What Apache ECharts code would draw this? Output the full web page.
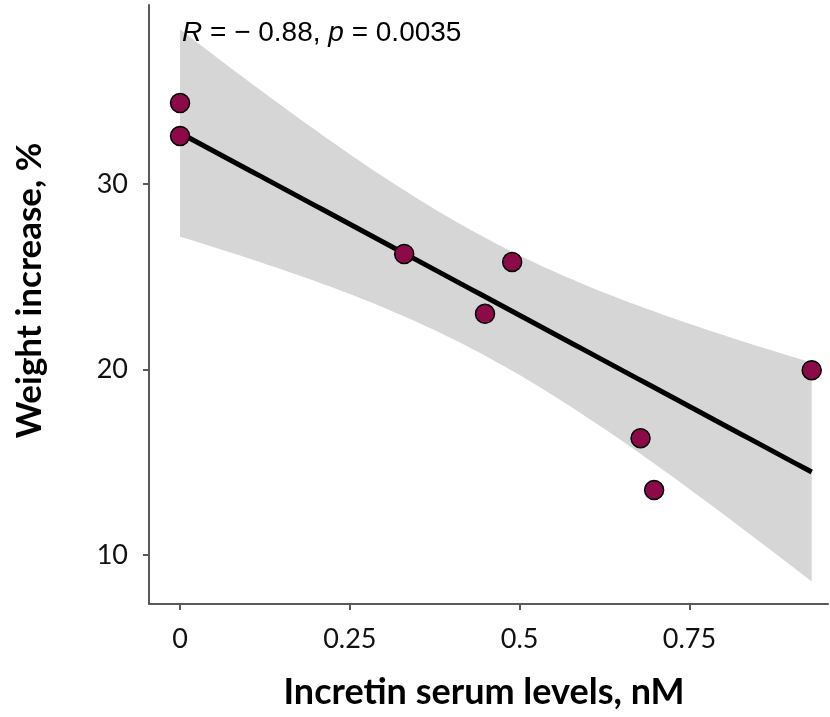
<!DOCTYPE html>
<html>
<head>
<meta charset="utf-8">
<script src="https://cdn.jsdelivr.net/npm/echarts@6/dist/echarts.min.js"></script>
<style>
  html, body { margin: 0; padding: 0; background: #fff; }
  #chart { width: 830px; height: 717px; }
</style>
</head>
<body>
<div id="chart"></div>
<script>
// values
const incretinLevels = [0, 0, 0.33, 0.449, 0.489, 0.678, 0.698, 0.93];
const weightIncrease = [34.37, 32.59, 26.23, 23.0, 25.8, 16.3, 13.5, 19.96];
const xTickValues = [0, 0.25, 0.5, 0.75];
const yTickValues = [10, 20, 30];
const xName = 'Incretin serum levels, nM';
const yName = 'Weight increase, %';

// linear fit + 95% confidence band (like geom_smooth(method = "lm"))
const T_975_DF6 = 2.4469;
const n = incretinLevels.length;
const mx = incretinLevels.reduce((a, b) => a + b, 0) / n;
const my = weightIncrease.reduce((a, b) => a + b, 0) / n;
let sxx = 0, sxy = 0;
for (let i = 0; i < n; i++) {
  sxx += (incretinLevels[i] - mx) ** 2;
  sxy += (incretinLevels[i] - mx) * (weightIncrease[i] - my);
}
const slope = sxy / sxx;
const intercept = my - slope * mx;
let sse = 0;
for (let i = 0; i < n; i++) {
  sse += (weightIncrease[i] - (intercept + slope * incretinLevels[i])) ** 2;
}
const sigma = Math.sqrt(sse / (n - 2));

const xMin = Math.min(...incretinLevels);
const xMax = Math.max(...incretinLevels);
const steps = 80;
const fitLine = [], bandLower = [], bandUpper = [];
for (let i = 0; i <= steps; i++) {
  const x = xMin + (xMax - xMin) * i / steps;
  const fit = intercept + slope * x;
  const se = sigma * Math.sqrt(1 / n + (x - mx) ** 2 / sxx);
  fitLine.push([x, fit]);
  bandLower.push([x, fit - T_975_DF6 * se]);
  bandUpper.push([x, fit + T_975_DF6 * se]);
}
const points = incretinLevels.map((x, i) => [x, weightIncrease[i]]);

const chart = echarts.init(document.getElementById('chart'));

const axisColor = '#5a5a5a';
const labelFont = 'Lato, "Open Sans", sans-serif';

const option = {
  animation: false,
  grid: { left: 149, right: 2, top: 5, bottom: 113 },
  xAxis: {
    type: 'value',
    min: -0.0457,
    max: 0.954,
    name: xName,
    nameLocation: 'middle',
    nameGap: 70,
    nameTextStyle: { fontFamily: labelFont, fontWeight: 'bold', fontSize: 36, color: '#000', padding: [0, 9, 0, 0] },
    splitLine: { show: false },
    axisLine: { show: true, onZero: false, lineStyle: { color: axisColor, width: 2 } },
    axisTick: { show: true, length: 6, customValues: xTickValues, lineStyle: { color: axisColor, width: 2 } },
    axisLabel: { customValues: xTickValues, margin: 22, fontFamily: labelFont, fontSize: 27, color: '#111' }
  },
  yAxis: {
    type: 'value',
    min: 7.36,
    max: 39.65,
    name: yName,
    nameLocation: 'middle',
    nameGap: 102,
    nameTextStyle: { fontFamily: labelFont, fontWeight: 'bold', fontSize: 35, color: '#000', padding: [0, 0, 0, 28] },
    splitLine: { show: false },
    axisLine: { show: true, onZero: false, lineStyle: { color: axisColor, width: 2 } },
    axisTick: { show: true, length: 6, customValues: yTickValues, lineStyle: { color: axisColor, width: 2 } },
    axisLabel: { customValues: yTickValues, margin: 21, fontFamily: labelFont, fontSize: 27, color: '#111' }
  },
  graphic: [{
    type: 'text',
    left: 182,
    top: 19,
    z: 100,
    zlevel: 1,
    style: {
      text: '{i|R} = − 0.88, {i|p} = 0.0035',
      font: '28px "Liberation Sans", Arial, sans-serif',
      fill: '#000',
      rich: {
        i: { fontStyle: 'italic', fontSize: 28, fontFamily: '"Liberation Sans", Arial, sans-serif' }
      }
    }
  }],
  series: [
    {
      type: 'custom',
      silent: true,
      z: 1,
      data: [bandLower[0]],
      renderItem: function (params, api) {
        const pts = bandUpper.map(p => api.coord(p))
          .concat(bandLower.slice().reverse().map(p => api.coord(p)));
        return { type: 'polygon', shape: { points: pts }, style: { fill: '#d6d6d6' } };
      }
    },
    {
      type: 'line',
      data: fitLine,
      symbol: 'none',
      z: 2,
      lineStyle: { color: '#000', width: 5 }
    },
    {
      type: 'scatter',
      data: points,
      symbolSize: 19,
      z: 3,
      itemStyle: { color: '#8b0a47', borderColor: '#000', borderWidth: 1.5, opacity: 1 }
    }
  ]
};

chart.setOption(option);
</script>
</body>
</html>
